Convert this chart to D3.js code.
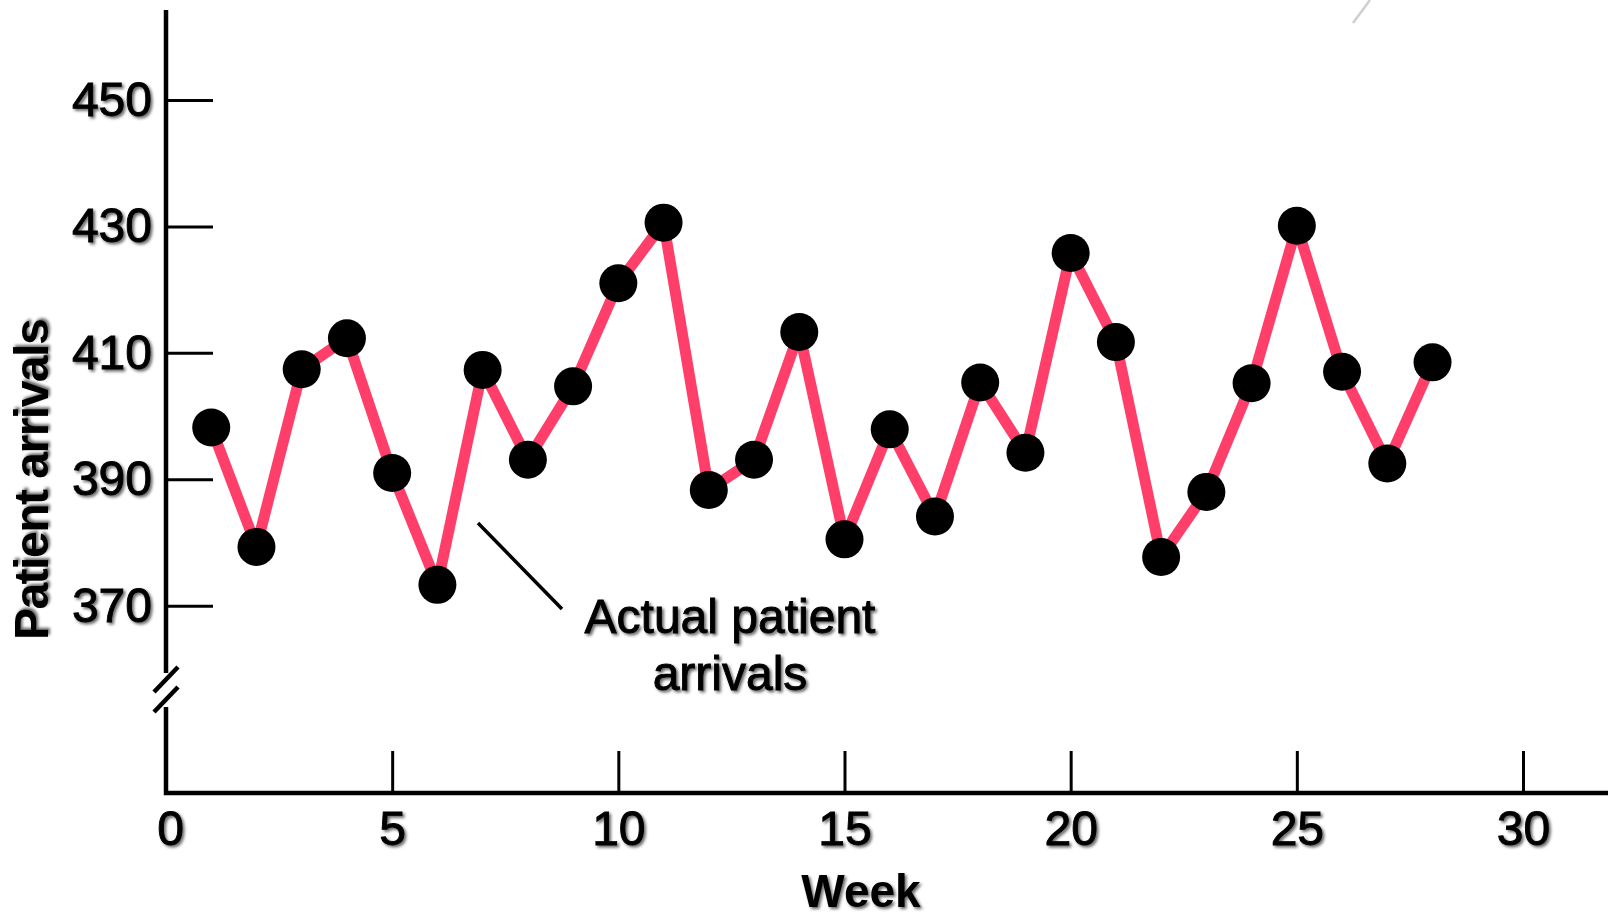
<!DOCTYPE html>
<html>
<head>
<meta charset="utf-8">
<script src="https://cdn.jsdelivr.net/npm/d3@7"></script>
<style>
  body { margin: 0; background: #fff; }
  svg { display: block; font-family: 'Liberation Sans', Arial, sans-serif; }
</style>
</head>
<body>
<svg id="area" width="1608" height="915"></svg>
<script>
const weeks = d3.range(1, 29);
const arrivals = [
  398.2, 379.3, 407.4, 412.3, 391.0, 373.3, 407.3, 393.1, 404.7, 421.0,
  430.6, 388.3, 393.1, 413.3, 380.5, 397.9, 384.1, 405.3, 394.2, 425.8,
  411.7, 377.7, 388.0, 405.2, 430.1, 407.0, 392.5, 408.5,
];
const xTicks = [0, 5, 10, 15, 20, 25, 30];
const yTicks = [370, 390, 410, 430, 450];
const xTitle = 'Week';
const yTitle = 'Patient arrivals';
const note = ['Actual patient', 'arrivals'];

const data = weeks.map((w, i) => ({ week: w, value: arrivals[i] }));

const svg = d3.select('#area');
const axisLeftX = 166;
const axisBottomY = 793;

const x = d3.scaleLinear()
  .domain([0, 30])
  .range([166, 1523]);
const y = d3.scaleLinear()
  .domain([370, 450])
  .range([605.7, 100]);

// soft drop shadow used on all the text
const defs = svg.append('defs');
defs.append('filter')
  .attr('id', 'shadow')
  .attr('x', '-10%').attr('y', '-20%')
  .attr('width', '130%').attr('height', '150%')
  .append('feDropShadow')
  .attr('dx', 2)
  .attr('dy', 2)
  .attr('stdDeviation', 1.5)
  .attr('flood-color', '#000')
  .attr('flood-opacity', 0.6);

// heavier-than-regular look of the labels
const heavy = (sel) => sel
  .attr('fill', '#000')
  .attr('stroke', '#000')
  .attr('stroke-width', 0.9)
  .style('font-size', '48px')
  .attr('filter', 'url(#shadow)');

// y axis ticks + labels
const yAxis = d3.axisLeft(y)
  .tickValues(yTicks)
  .tickSizeInner(-47)
  .tickSizeOuter(0)
  .tickPadding(14)
  .tickFormat(d3.format('d'));

const gy = svg.append('g')
  .attr('class', 'y axis')
  .attr('transform', `translate(${axisLeftX}, 0)`)
  .call(yAxis);
gy.select('.domain').remove();
gy.selectAll('line').attr('stroke', '#000').attr('stroke-width', 3);
gy.selectAll('text').call(heavy);

// x axis ticks + labels
const xAxis = d3.axisBottom(x)
  .tickValues(xTicks)
  .tickSizeInner(-42)
  .tickSizeOuter(0)
  .tickPadding(18)
  .tickFormat(d3.format('d'));

const gx = svg.append('g')
  .attr('class', 'x axis')
  .attr('transform', `translate(0, ${axisBottomY})`)
  .call(xAxis);
gx.select('.domain').remove();
gx.selectAll('line')
  .attr('stroke', '#000')
  .attr('stroke-width', 3)
  .attr('opacity', (d) => (d === 0 ? 0 : 1));
gx.selectAll('text').call(heavy);
gx.selectAll('.tick')
  .filter((d) => d === 0)
  .select('text')
  .attr('x', 4);

// axis lines with the break on the y axis
const axisPath = d3.path();
axisPath.moveTo(axisLeftX, 10);
axisPath.lineTo(axisLeftX, 673);
axisPath.moveTo(axisLeftX, 707);
axisPath.lineTo(axisLeftX, axisBottomY);
axisPath.lineTo(1608, axisBottomY);
svg.append('path')
  .attr('d', axisPath.toString())
  .attr('fill', 'none')
  .attr('stroke', '#000')
  .attr('stroke-width', 4.5);

svg.append('g')
  .attr('class', 'break')
  .selectAll('line')
  .data([0, 20])
  .enter().append('line')
  .attr('x1', 154)
  .attr('y1', (d) => 692 + d)
  .attr('x2', 178)
  .attr('y2', (d) => 667 + d)
  .attr('stroke', '#000')
  .attr('stroke-width', 4.5);

// series
const line = d3.line()
  .x((d) => x(d.week))
  .y((d) => y(d.value));

svg.append('path')
  .datum(data)
  .attr('d', line)
  .attr('fill', 'none')
  .attr('stroke', '#ff3f69')
  .attr('stroke-width', 11)
  .attr('stroke-linejoin', 'round');

svg.selectAll('circle.pt')
  .data(data)
  .enter().append('circle')
  .attr('class', 'pt')
  .attr('cx', (d) => x(d.week))
  .attr('cy', (d) => y(d.value))
  .attr('r', 19)
  .attr('fill', '#000');

// axis titles
svg.append('text')
  .attr('transform', 'translate(48, 480) rotate(-90)')
  .attr('text-anchor', 'middle')
  .style('font-size', '48px')
  .style('font-weight', 'bold')
  .style('letter-spacing', '-1.5px')
  .attr('filter', 'url(#shadow)')
  .text(yTitle);

svg.append('text')
  .attr('x', 861)
  .attr('y', 907)
  .attr('text-anchor', 'middle')
  .style('font-size', '46px')
  .style('font-weight', 'bold')
  .attr('filter', 'url(#shadow)')
  .text(xTitle);

// annotation
svg.append('line')
  .attr('x1', 478)
  .attr('y1', 523)
  .attr('x2', 562)
  .attr('y2', 609)
  .attr('stroke', '#000')
  .attr('stroke-width', 3.5);

svg.append('text')
  .attr('text-anchor', 'middle')
  .call(heavy)
  .selectAll('tspan')
  .data(note)
  .enter().append('tspan')
  .attr('x', 730)
  .attr('y', (d, i) => 633 + i * 57)
  .text((d) => d);

// faint stroke in the top right corner
svg.append('line')
  .attr('x1', 1353)
  .attr('y1', 23)
  .attr('x2', 1370)
  .attr('y2', 0)
  .attr('stroke', '#cfcfcf')
  .attr('stroke-width', 2.5);
</script>
</body>
</html>
